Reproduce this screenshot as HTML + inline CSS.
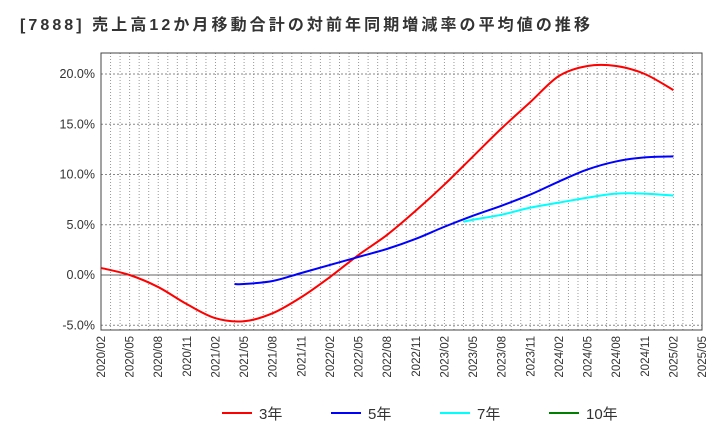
<!DOCTYPE html>
<html><head><meta charset="utf-8"><style>
body{margin:0;background:#fff;width:720px;height:440px;overflow:hidden}
svg text{font-family:"Liberation Sans","Noto Sans CJK JP",sans-serif}
</style></head><body>
<svg id="c" width="720" height="440" xmlns="http://www.w3.org/2000/svg">
<text x="20" y="30" font-size="16" font-weight="bold" fill="#333" textLength="570" lengthAdjust="spacing">[7888]  売上高12か月移動合計の対前年同期増減率の平均値の推移</text>
</svg>
<script>
const yTicks=[-5,0,5,10,15,20];
const xLabels=["2020/02","2020/05","2020/08","2020/11","2021/02","2021/05","2021/08","2021/11","2022/02","2022/05","2022/08","2022/11","2023/02","2023/05","2023/08","2023/11","2024/02","2024/05","2024/08","2024/11","2025/02","2025/05"];
const redMonths=[0,3,6,9,12,15,18,21,24,27,30,33,36,39,42,45,48,51,54,57,60];
const redVals=[0.7,0.0,-1.2,-2.9,-4.3,-4.6,-3.8,-2.2,-0.2,2.0,4.0,6.4,9.0,11.8,14.6,17.2,19.8,20.8,20.8,20.0,18.4];
const blueMonths=[14,15,18,21,24,27,30,33,36,39,42,45,48,51,54,57,60];
const blueVals=[-0.9,-0.9,-0.6,0.2,1.0,1.8,2.6,3.6,4.8,5.9,6.9,8.0,9.3,10.5,11.3,11.7,11.8];
const cyanMonths=[38,39,42,45,48,51,54,57,60];
const cyanVals=[5.3,5.5,6.0,6.7,7.2,7.7,8.1,8.1,7.9];
const L=101,R=702,T=53,B=330;
const xs=m=>L+m*(R-L)/63;
const ys=v=>275-v*10.05;
const svg=document.getElementById('c');
const NS="http://www.w3.org/2000/svg";
function mk(t,a){const e=document.createElementNS(NS,t);for(const k in a)e.setAttribute(k,a[k]);svg.appendChild(e);return e;}
const bg=mk('rect',{x:L,y:T,width:R-L,height:B-T,fill:'#fff'});


for(let m=0;m<=63;m++){const g=mk('line',{x1:xs(m),x2:xs(m),y1:T,y2:B,stroke:'#999','stroke-dasharray':'1,2','stroke-width':1});

}
yTicks.forEach(v=>{const g=mk('line',{x1:L,x2:R,y1:ys(v),y2:ys(v),stroke:v===0?'#666':'#888','stroke-dasharray':v===0?'':'2,2'});


const t=mk('text',{x:L-6,y:ys(v)+4,'text-anchor':'end','font-size':12.5,fill:'#333'});t.textContent=v.toFixed(1)+'%';

});
xLabels.forEach((s,i)=>{const x=xs(i*3);const t=mk('text',{x:0,y:0,transform:`translate(${x+4},${B+6}) rotate(-90)`,'text-anchor':'end','font-size':11.5,fill:'#333'});t.textContent=s;

});
const fr=mk('rect',{x:L,y:T,width:R-L,height:B-T,fill:'none',stroke:'#444'});


function path(ms,vs){const p=ms.map((m,i)=>[xs(m),ys(vs[i])]);let d=`M${p[0][0]},${p[0][1]}`;
for(let i=0;i<p.length-1;i++){const p0=p[i-1]||p[i],p1=p[i],p2=p[i+1],p3=p[i+2]||p2;
d+=` C${p1[0]+(p2[0]-p0[0])/6},${p1[1]+(p2[1]-p0[1])/6} ${p2[0]-(p3[0]-p1[0])/6},${p2[1]-(p3[1]-p1[1])/6} ${p2[0]},${p2[1]}`;}return d;}
[[redMonths,redVals,'#ff0000','series-3yr'],[blueMonths,blueVals,'#0000ff','series-5yr'],[cyanMonths,cyanVals,'#00ffff','series-7yr']].forEach(([m,v,c,n])=>{
const e=mk('path',{d:path(m,v),fill:'none',stroke:c,'stroke-width':2});

});
[['3年','#ff0000',222],['5年','#0000ff',331],['7年','#00ffff',440],['10年','#008000',549]].forEach(([s,c,x])=>{
const l=mk('line',{x1:x,x2:x+30,y1:413,y2:413,stroke:c,'stroke-width':2});


const t=mk('text',{x:x+37,y:419,'font-size':15,fill:'#333'});t.textContent=s;

});
</script>
</body></html>
